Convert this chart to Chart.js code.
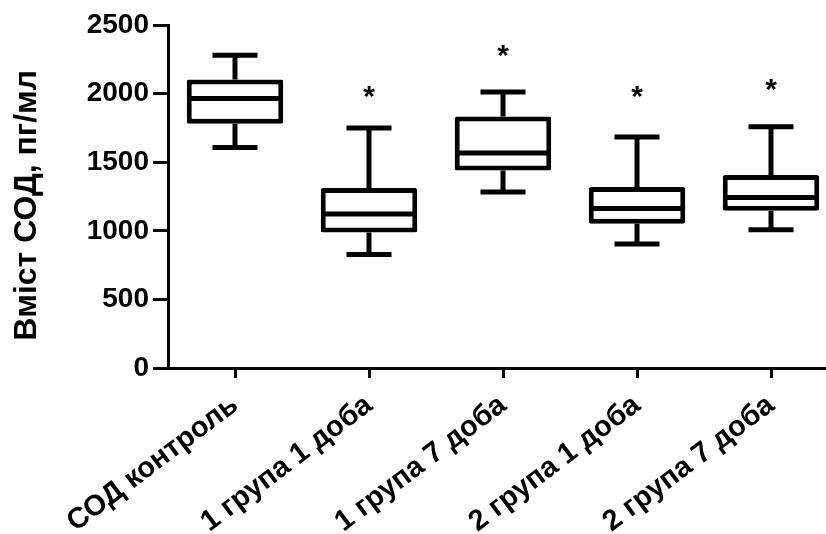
<!DOCTYPE html>
<html>
<head>
<meta charset="utf-8">
<script src="https://cdn.jsdelivr.net/npm/chart.js@4"></script>
<style>
  html, body { margin: 0; padding: 0; background: #fff; }
  #wrap { width: 826px; height: 534px; overflow: hidden; }
</style>
</head>
<body>
<div id="wrap"><canvas id="myChart" width="838" height="534"></canvas></div>
<script>
// groups and box plot values
let labels = ['СОД контроль', '1 група 1 доба', '1 група 7 доба', '2 група 1 доба', '2 група 7 доба'];
let mins    = [1608,  827, 1282,  903, 1007];
let q1      = [1781,  988, 1440, 1051, 1146];
let medians = [1964, 1122, 1567, 1163, 1243];
let q3      = [2102, 1312, 1834, 1319, 1406];
let maxs    = [2280, 1750, 2012, 1684, 1759];
// height of the "*" marks (null = no mark)
let stars   = [null, 2000, 2300, 2000, 2050];
let yTicks  = [0, 500, 1000, 1500, 2000, 2500];

let fontFam = "'Liberation Sans', Arial, sans-serif";

// whiskers, medians and stars drawn on top of the floating bars
let boxExtras = {
  id: 'boxExtras',
  afterDatasetsDraw(chart) {
    let ctx = chart.ctx;
    let x = chart.scales.x;
    let y = chart.scales.y;
    let bars = chart.getDatasetMeta(0).data;
    ctx.save();
    ctx.strokeStyle = '#000';
    ctx.fillStyle = '#000';
    ctx.lineWidth = 5;
    ctx.lineCap = 'butt';
    labels.forEach(function (lab, i) {
      let cx = x.getPixelForValue(i);
      let half = bars[i].width / 2;
      let cap = 22.5;
      // whiskers
      ctx.beginPath();
      ctx.moveTo(cx, y.getPixelForValue(q3[i]));
      ctx.lineTo(cx, y.getPixelForValue(maxs[i]));
      ctx.moveTo(cx, y.getPixelForValue(q1[i]));
      ctx.lineTo(cx, y.getPixelForValue(mins[i]));
      ctx.moveTo(cx - cap, y.getPixelForValue(maxs[i]));
      ctx.lineTo(cx + cap, y.getPixelForValue(maxs[i]));
      ctx.moveTo(cx - cap, y.getPixelForValue(mins[i]));
      ctx.lineTo(cx + cap, y.getPixelForValue(mins[i]));
      // median
      ctx.moveTo(cx - half + 2, y.getPixelForValue(medians[i]));
      ctx.lineTo(cx + half - 2, y.getPixelForValue(medians[i]));
      ctx.stroke();
      if (stars[i] !== null) {
        ctx.font = 'bold 30px ' + fontFam;
        ctx.textAlign = 'center';
        ctx.textBaseline = 'middle';
        ctx.fillText('*', cx, y.getPixelForValue(stars[i]) + 4);
      }
    });
    ctx.restore();
  }
};

let ctx = document.getElementById('myChart').getContext('2d');

let myChart = new Chart(ctx, {
  type: 'bar',
  data: {
    labels: labels,
    datasets: [{
      data: q1.map(function (v, i) { return [v, q3[i]]; }),
      backgroundColor: '#fff',
      borderColor: '#000',
      borderWidth: 5,
      borderSkipped: false,
      borderRadius: 2,
      barPercentage: 0.72,
      categoryPercentage: 1.0
    }]
  },
  options: {
    responsive: false,
    animation: false,
    layout: {
      padding: { top: 25, right: 0, bottom: 0, left: 0 }
    },
    plugins: {
      legend: { display: false },
      tooltip: { enabled: false }
    },
    scales: {
      x: {
        offset: true,
        grid: {
          offset: false,
          drawOnChartArea: false,
          drawTicks: true,
          tickLength: 10,
          color: '#000',
          lineWidth: 3
        },
        border: { display: true, color: '#000', width: 3 },
        ticks: {
          color: '#000',
          maxRotation: 37,
          minRotation: 37,
          padding: 10,
          font: { family: fontFam, size: 29, weight: 'bold' }
        },
        afterFit: function (scale) { scale.height = 166; }
      },
      y: {
        min: 0,
        max: 2500,
        afterBuildTicks: function (scale) {
          scale.ticks = yTicks.map(function (v) { return { value: v }; });
        },
        grid: {
          drawOnChartArea: false,
          drawTicks: true,
          tickLength: 15,
          color: '#000',
          lineWidth: 3
        },
        border: { display: true, color: '#000', width: 3 },
        ticks: {
          color: '#000',
          padding: 4,
          font: { family: fontFam, size: 28, weight: 'bold' },
          callback: function (value) { return String(value); }
        },
        title: {
          display: true,
          text: 'Вміст СОД, пг/мл\u00a0\u00a0',
          color: '#000',
          padding: { top: 8, bottom: 0 },
          font: { family: fontFam, size: 32, weight: 'bold' }
        },
        afterFit: function (scale) { scale.width = 168; }
      }
    }
  },
  plugins: [boxExtras]
});
</script>
</body>
</html>
